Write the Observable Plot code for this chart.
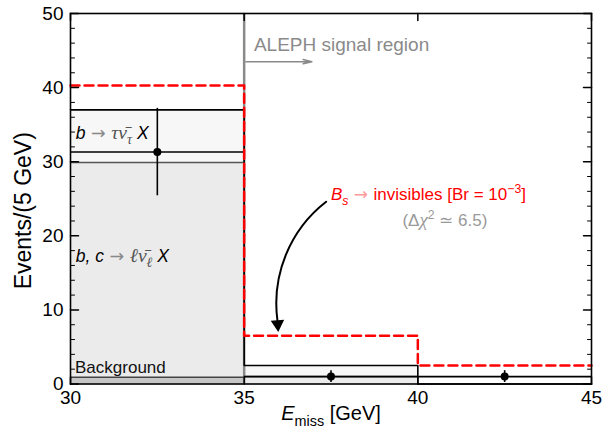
<!DOCTYPE html>
<html><head><meta charset="utf-8">
<script src="https://cdn.jsdelivr.net/npm/d3@7"></script>
<script src="https://cdn.jsdelivr.net/npm/@observablehq/plot@0.6"></script>
<style>body{margin:0;background:#fff}</style>
</head><body><div id="chart"></div>
<script>
// ---- data ----
const binLo = [30, 35, 40];
const binHi = [35, 40, 45];
const background = [0.9, 0.05, 0];     // Background
const bcLeptonic = [29.0, 0.95, 0];    // b,c -> l nu X
const bTau = [7.1, 1.5, 0];            // b -> tau nu X
const signalTotal = [40.3, 6.5, 2.5];  // Bs -> invisibles, Br = 1e-3 (stacked total)
const dataCenter = [32.5, 37.5, 42.5];
const dataEvents = [31.3, 1.0, 1.0];
const dataLow = [25.4, 0.2, 0.2];
const dataHigh = [37.2, 1.8, 1.8];
const signalEdge = [35];
const xTicks = [30, 35, 40, 45];
const yTicks = [0, 10, 20, 30, 40, 50];
const yMinor = d3.range(0, 51, 2).filter(v => v % 10 !== 0);

// ---- derived tables ----
const cumBg = background;
const cumBc = background.map((v, i) => v + bcLeptonic[i]);
const cumTot = cumBc.map((v, i) => v + bTau[i]);
const rects = [];
binLo.forEach((lo, i) => {
  rects.push({x1: lo, x2: binHi[i], y1: 0, y2: cumBg[i], c: "#c6c6c6"});
  rects.push({x1: lo, x2: binHi[i], y1: cumBg[i], y2: cumBc[i], c: "#ebebeb"});
  rects.push({x1: lo, x2: binHi[i], y1: cumBc[i], y2: cumTot[i], c: "#f7f7f7"});
});
const stepPts = arr => [...binLo.map((x, i) => ({x, y: arr[i]})), {x: binHi[binHi.length - 1], y: arr[arr.length - 1]}];
const bounds = [];
binLo.forEach((lo, i) => {
  if (background[i] > 0.1) bounds.push({x1: lo, x2: binHi[i], y: cumBg[i], c: "#444"});
  if (bcLeptonic[i] > 0) bounds.push({x1: lo, x2: binHi[i], y: cumBc[i], c: "#555"});
});
const dataRows = dataCenter.map((x, i) => ({x, x1: binLo[i], x2: binHi[i], y: dataEvents[i], lo: dataLow[i], hi: dataHigh[i]}));

// ---- annotations ----
const GRAY = "#8a8a8a";
const annotations = [
  {x: 30.15, y: 33.8, size: 17.5, anchor: "start", parts: [
    {t: "b", i: 1}, {t: " → ", fill: "#888", arrow: 1}, {t: "τν̄", i: 1, m: 1, fill: "#555"}, {t: "τ", sub: 1, i: 1, m: 1, fill: "#555"}, {t: " X", i: 1}]},
  {x: 30.15, y: 17.2, size: 17.5, anchor: "start", parts: [
    {t: "b, c", i: 1}, {t: " → ", fill: "#888", arrow: 1}, {t: "ℓν̄", i: 1, m: 1, fill: "#555"}, {t: "ℓ", sub: 1, i: 1, m: 1, fill: "#555"}, {t: " X", i: 1}]},
  {x: 30.13, y: 2.2, size: 17, anchor: "start", parts: [{t: "Background", fill: "#111"}]},
  {x: 35.28, y: 45.7, size: 19, anchor: "start", parts: [{t: "ALEPH signal region", fill: GRAY}]},
  {x: 37.5, y: 25.6, size: 17, anchor: "start", parts: [
    {t: "B", i: 1, fill: "#ff0000"}, {t: "s", sub: 1, i: 1, fill: "#ff0000"}, {t: " → ", fill: "#ff9a9a", arrow: 1},
    {t: "invisibles [Br = 10", fill: "#ff0000"}, {t: "−3", sup: 1, fill: "#ff0000"}, {t: "]", fill: "#ff0000"}]},
  {x: 40.78, y: 22.1, size: 17, anchor: "middle", parts: [
    {t: "(Δ", fill: "#999"}, {t: "χ", i: 1, m: 1, fill: "#999"}, {t: "2", sup: 1, fill: "#999"}, {t: " ≃ 6.5)", fill: "#999"}]}
];
const plain = parts => parts.map(p => p.t).join("");
const regionArrow = [{x1: 35.05, x2: 36.95, y: 43.5}];
const curveArrow = [{x1: 37.36, y1: 24.6, x2: 35.96, y2: 8.5}];
const curveHead = [{x: 35.966, y: 8.07}];
const xLabelParts = [{t: "E", i: 1}, {t: "miss", sub: 1}, {t: " [GeV]"}];
const yLabel = "Events/(5 GeV)";

const tickShape = {draw(context, l) { context.moveTo(0, 0); context.lineTo(0, -l); }};

const plot = Plot.plot({
  width: 613, height: 435,
  marginLeft: 70, marginRight: 22, marginTop: 13, marginBottom: 51.5,
  x: {domain: [30, 45]},
  y: {domain: [0, 50]},
  style: {fontFamily: "'Liberation Sans', Arial, sans-serif", fontSize: "19px", background: "white", color: "black", overflow: "visible"},
  marks: [
    Plot.rect(rects, {x1: "x1", x2: "x2", y1: "y1", y2: "y2", fill: "c"}),
    Plot.ruleY(bounds, {x1: "x1", x2: "x2", y: "y", stroke: "c", strokeWidth: 1.5}),
    Plot.ruleX(signalEdge, {x: d => d, stroke: GRAY, strokeWidth: 2.5}),
    Plot.line(stepPts(cumTot), {x: "x", y: "y", curve: "step-after", stroke: "black", strokeWidth: 1.6}),
    Plot.ruleY(dataRows, {x1: "x1", x2: "x2", y: "y", stroke: "black", strokeWidth: 1.6}),
    Plot.ruleX(dataRows, {x: "x", y1: "lo", y2: "hi", stroke: "black", strokeWidth: 1.6}),
    Plot.dot(dataRows, {x: "x", y: "y", r: 4, fill: "black"}),
    Plot.line(stepPts(signalTotal), {x: "x", y: "y", curve: "step-after", stroke: "#ff0000", strokeWidth: 2.5, strokeDasharray: "9,5"}),
    Plot.arrow(regionArrow, {x1: "x1", x2: "x2", y1: "y", y2: "y", stroke: GRAY, strokeWidth: 1.5, headLength: 9, headAngle: 28}),
    Plot.arrow(curveArrow, {x1: "x1", y1: "y1", x2: "x2", y2: "y2", bend: -30, headLength: 0, stroke: "black", strokeWidth: 2}),
    Plot.dot(curveHead, {x: "x", y: "y", symbol: "triangle", r: 5, fill: "black", rotate: 176}),
    Plot.text(annotations.filter(d => d.anchor === "start"), {x: "x", y: "y", text: d => plain(d.parts), textAnchor: "start", fontSize: d => d.size}),
    Plot.text(annotations.filter(d => d.anchor === "middle"), {x: "x", y: "y", text: d => plain(d.parts), textAnchor: "middle", fontSize: d => d.size}),
    Plot.text([xLabelParts], {frameAnchor: "bottom", dy: 36, text: d => plain(d), fontSize: 20, textAnchor: "middle"}),
    Plot.text([yLabel], {frameAnchor: "left", dx: -47, dy: 12, rotate: -90, text: d => d, fontSize: 23, textAnchor: "middle"}),
    // ticks (inside)
    Plot.vector(yTicks, {y: d => d, frameAnchor: "left", rotate: 90, length: 8, anchor: "start", shape: tickShape, stroke: "black", strokeWidth: 1.5}),
    Plot.vector(yMinor, {y: d => d, frameAnchor: "left", rotate: 90, length: 4, anchor: "start", shape: tickShape, stroke: "black", strokeWidth: 1}),
    Plot.vector(yTicks, {y: d => d, frameAnchor: "right", rotate: -90, length: 8, anchor: "start", shape: tickShape, stroke: "black", strokeWidth: 1.5}),
    Plot.vector(yMinor, {y: d => d, frameAnchor: "right", rotate: -90, length: 4, anchor: "start", shape: tickShape, stroke: "black", strokeWidth: 1}),
    Plot.vector(xTicks, {x: d => d, frameAnchor: "bottom", rotate: 0, length: 7, anchor: "start", shape: tickShape, stroke: "black", strokeWidth: 1.5}),
    Plot.vector(xTicks, {x: d => d, frameAnchor: "top", rotate: 180, length: 7, anchor: "start", shape: tickShape, stroke: "black", strokeWidth: 1.5}),
    Plot.axisX(xTicks, {tickSize: 0, tickPadding: 6, label: null, fontSize: 19}),
    Plot.axisY(yTicks, {tickSize: 0, tickPadding: 7, label: null, fontSize: 19}),
    Plot.frame({stroke: "black", strokeWidth: 1.6})
  ]
});

function applyRich(textEl, parts, fs) {
  const t = d3.select(textEl);
  t.text(null);
  let shift = 0;
  for (const p of parts) {
    const ts = t.append("tspan").text(p.t);
    let target = 0, size = fs;
    if (p.sub) { target = 0.3 * fs; size = 0.72 * fs; }
    if (p.sup) { target = -0.42 * fs; size = 0.72 * fs; }
    if (p.m) size *= 1.12;
    if (target !== shift) { ts.attr("dy", target - shift); shift = target; }
    ts.attr("font-size", size);
    if (p.i) ts.attr("font-style", "italic");
    if (p.m) ts.attr("font-family", "'Liberation Serif', 'DejaVu Serif', serif");
    if (p.arrow) ts.attr("font-family", "'DejaVu Sans', sans-serif");
    if (p.fill) ts.attr("fill", p.fill);
  }
}
const richItems = [...annotations.map(a => ({parts: a.parts, size: a.size})), {parts: xLabelParts, size: 20}];
d3.select(plot).selectAll("text").each(function() {
  const s = this.textContent;
  const item = richItems.find(r => plain(r.parts) === s);
  if (item) applyRich(this, item.parts, item.size);
});
document.getElementById("chart").appendChild(plot);
</script>
</body></html>
